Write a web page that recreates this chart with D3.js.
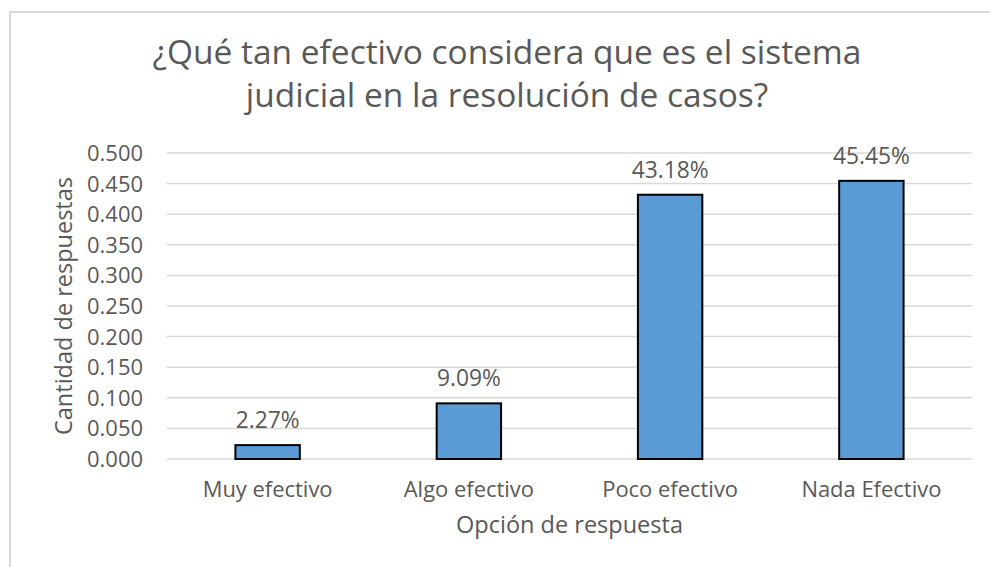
<!DOCTYPE html>
<html>
<head>
<meta charset="utf-8">
<script src="https://cdn.jsdelivr.net/npm/d3@7"></script>
<style>
  html, body { margin: 0; padding: 0; background: #fff; }
  svg { display: block; }
  text { font-family: "Open Sans", "Noto Sans", sans-serif; fill: #595959; }
</style>
</head>
<body>
<svg id="chart" width="990" height="567"></svg>
<script>
const categories = ["Muy efectivo", "Algo efectivo", "Poco efectivo", "Nada Efectivo"];
const values = [0.0227, 0.0909, 0.4318, 0.4545];
const yTicks = [0, 0.05, 0.1, 0.15, 0.2, 0.25, 0.3, 0.35, 0.4, 0.45, 0.5];
const titleLines = ["¿Qué tan efectivo considera que es el sistema", "judicial en la resolución de casos?"];
const xTitle = "Opción de respuesta";
const yTitle = "Cantidad de respuestas";

const svg = d3.select("#chart");
const W = 990, H = 567;
const plot = { left: 167, right: 972, top: 153, bottom: 459 };

// helper: fit font size so text width matches target
function fit(sel, target, base) {
  sel.style("font-size", base + "px");
  const w = sel.node().getComputedTextLength();
  if (w > 0) sel.style("font-size", (base * target / w) + "px");
  return sel;
}

// frame
svg.append("rect")
  .attr("x", 10).attr("y", 12)
  .attr("width", W + 20).attr("height", H + 20)
  .attr("fill", "#fff")
  .attr("stroke", "#D9D9D9").attr("stroke-width", 2);

const x = d3.scaleBand()
  .domain(categories)
  .range([plot.left, plot.right])
  .paddingInner(0.68)
  .paddingOuter(0.34);

const y = d3.scaleLinear()
  .domain([0, 0.5])
  .range([plot.bottom, plot.top]);

// gridlines
svg.append("g").selectAll("line")
  .data(yTicks).join("line")
  .attr("x1", plot.left).attr("x2", plot.right)
  .attr("y1", d => y(d)).attr("y2", d => y(d))
  .attr("stroke", "#D9D9D9").attr("stroke-width", 1.5);

// y tick labels
const fmtY = d3.format(".3f");
const yl = svg.append("g").selectAll("text")
  .data(yTicks).join("text")
  .attr("x", 143)
  .attr("y", d => y(d))
  .attr("dy", "0.36em")
  .attr("text-anchor", "end")
  .style("font-size", "21px")
  .text(d => fmtY(d));
fit(yl.filter((d, i) => i === yTicks.length - 1), 56, 21);
const ySize = yl.filter((d, i) => i === yTicks.length - 1).style("font-size");
yl.style("font-size", ySize);

// bars
svg.append("g").selectAll("rect")
  .data(values).join("rect")
  .attr("x", (d, i) => x(categories[i]))
  .attr("width", x.bandwidth())
  .attr("y", d => y(d))
  .attr("height", d => y(0) - y(d))
  .attr("fill", "#5B9BD5")
  .attr("stroke", "#000").attr("stroke-width", 2);

// value labels
const fmtV = d3.format(".2%");
const vl = svg.append("g").selectAll("text")
  .data(values).join("text")
  .attr("x", (d, i) => x(categories[i]) + x.bandwidth() / 2)
  .attr("y", d => y(d) - 17)
  .attr("text-anchor", "middle")
  .text(d => fmtV(d));
fit(vl.filter((d, i) => i === 0), 64, 21);
vl.style("font-size", vl.filter((d, i) => i === 0).style("font-size"));

// category labels
const cl = svg.append("g").selectAll("text")
  .data(categories).join("text")
  .attr("x", d => x(d) + x.bandwidth() / 2)
  .attr("y", 497)
  .attr("text-anchor", "middle")
  .text(d => d);
fit(cl.filter((d, i) => i === 0), 130, 21);
cl.style("font-size", cl.filter((d, i) => i === 0).style("font-size"));

// x title
const xt = svg.append("text")
  .attr("x", (plot.left + plot.right) / 2)
  .attr("y", 533)
  .attr("text-anchor", "middle")
  .text(xTitle);
fit(xt, 227, 22);

// y title
const yt = svg.append("text")
  .attr("transform", `translate(72,${(plot.top + plot.bottom) / 2}) rotate(-90)`)
  .attr("text-anchor", "middle")
  .text(yTitle);
fit(yt, 258, 22);

// title
const t1 = svg.append("text")
  .attr("x", 507).attr("y", 64)
  .attr("text-anchor", "middle")
  .text(titleLines[0]);
fit(t1, 709, 30);
svg.append("text")
  .attr("x", 507).attr("y", 107)
  .attr("text-anchor", "middle")
  .style("font-size", t1.style("font-size"))
  .text(titleLines[1]);
</script>
</body>
</html>
